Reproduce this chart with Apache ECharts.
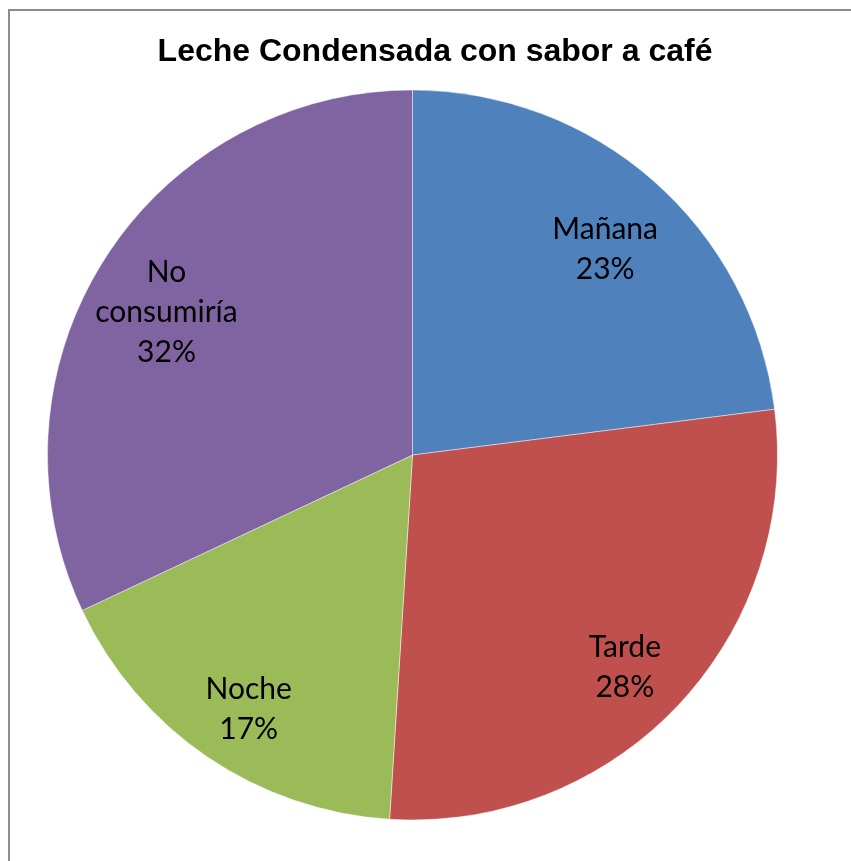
<!DOCTYPE html>
<html>
<head>
<meta charset="utf-8">
<script src="https://cdn.jsdelivr.net/npm/echarts@6/dist/echarts.min.js"></script>
<style>
  html, body { margin: 0; padding: 0; background: #fff; }
  #chart { width: 851px; height: 861px; }
</style>
</head>
<body>
<div id="chart"></div>
<script>
// Momento de consumo preferido
const titleText = 'Leche Condensada con sabor a café';
const categories = ['Mañana', 'Tarde', 'Noche', 'No\nconsumiría'];
const shares = [23, 28, 17, 32];
const colors = ['#4F81BD', '#C0504D', '#9BBB59', '#8064A2'];

const pieData = categories.map((name, i) => ({
  name: name,
  value: shares[i],
  itemStyle: { color: colors[i] }
}));

const center = [412.5, 455];
const R = 365;

const chart = echarts.init(document.getElementById('chart'), null, { renderer: 'canvas' });
chart.setOption({
  animation: false,
  backgroundColor: '#ffffff',
  title: {
    text: titleText,
    left: 430,
    top: 31,
    textAlign: 'center',
    textStyle: {
      fontFamily: 'Liberation Sans, Arial, sans-serif',
      fontWeight: 'bold',
      fontSize: 32,
      color: '#000'
    }
  },
  graphic: [{
    type: 'rect',
    shape: { x: 9, y: 10, width: 900, height: 900 },
    style: { fill: null, stroke: '#8c8c8c', lineWidth: 2 },
    z: -1
  }],
  series: [
    {
      type: 'pie',
      center: center,
      radius: [0, R],
      startAngle: 90,
      clockwise: true,
      silent: true,
      label: { show: false },
      labelLine: { show: false },
      itemStyle: { borderColor: 'rgba(255,255,255,0.45)', borderWidth: 1 },
      data: pieData
    },
    {
      // label ring: transparent copy so the labels sit near the outer part of each slice
      type: 'pie',
      center: center,
      radius: [0, R * 1.58],
      startAngle: 90,
      clockwise: true,
      silent: true,
      itemStyle: { color: 'rgba(0,0,0,0)' },
      label: {
        show: true,
        position: 'inside',
        formatter: '{b}\n{d}%',
        fontFamily: 'Lato, "Open Sans", sans-serif',
        fontSize: 30,
        lineHeight: 40,
        color: '#000',
        align: 'center',
        offset: [0, 13]
      },
      labelLine: { show: false },
      data: pieData.map(d => ({ name: d.name, value: d.value }))
    }
  ]
});
</script>
</body>
</html>
